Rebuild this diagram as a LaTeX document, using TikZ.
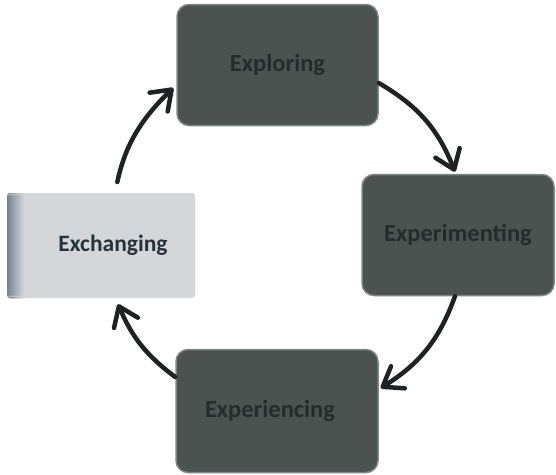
\documentclass[tikz,border=0pt]{standalone}
\usepackage{fontspec}
\setmainfont{Carlito}
\usetikzlibrary{arrows.meta}
\definecolor{darkbox}{HTML}{4B5351}
\definecolor{darkedge}{HTML}{7E8786}
\definecolor{darktext}{HTML}{252B2A}
\definecolor{lightbox}{HTML}{D3D7DA}
\definecolor{lightedge}{HTML}{75838F}
\definecolor{lighttext}{HTML}{27323B}
\definecolor{arrowcol}{HTML}{1E2222}
\tikzset{
  darkstage/.style={draw=darkedge, line width=1.5pt, fill=darkbox, rounded corners=12pt,
    minimum width=201pt, minimum height=121pt, inner sep=0pt,
    font=\bfseries\fontsize{24.5}{28}\selectfont, text=darktext},
  lightstage/.style={draw=none, fill=lightbox, rounded corners=3pt,
    minimum width=188pt, minimum height=105pt, inner sep=0pt,
    font=\bfseries\fontsize{23.5}{27}\selectfont, text=lighttext,
    path picture={\foreach \i in {0,...,17}{
        \pgfmathsetmacro{\mix}{100-\i*100/17}
        \fill[lightedge!\mix!lightbox]
          ([xshift=\i pt]path picture bounding box.south west) rectangle
          ([xshift=\i pt+1.05pt]path picture bounding box.north west);}}},
  cyclearrow/.style={draw=arrowcol, line width=4.5pt, line cap=round,
    -{Straight Barb[length=18pt,width=26pt,round]}}
}
\begin{document}
\begin{tikzpicture}[x=1pt,y=-1pt]
\useasboundingbox (0,0) rectangle (556,474);
\fill[white] (0,0) rectangle (556,474);
\node[darkstage] (explore) at (277.5,65) {Exploring};
\node[darkstage, minimum width=192pt, minimum height=121pt] (experiment) at (458,235) {Experimenting};
\node[darkstage, minimum width=202pt, minimum height=123pt] (experience) at (277,411) {Experiencing\hspace*{14pt}};
\node[lightstage] (exchange) at (101,245.5) {\hspace*{24pt}Exchanging};
\draw[cyclearrow] ([yshift=-18pt]explore.east) to[bend left=19] ([xshift=-3pt,yshift=2pt]experiment.north);
\draw[cyclearrow] ([xshift=-3pt]experiment.south) to[bend left=19] ([yshift=23pt,xshift=2pt]experience.east);
\draw[cyclearrow] ([yshift=34pt]experience.west) to[bend left=15] ([xshift=17pt,yshift=-6pt]exchange.south);
\draw[cyclearrow, shorten <=11pt] ([xshift=14pt]exchange.north) to[bend left=17] ([yshift=-23pt,xshift=-3pt]explore.west);
\end{tikzpicture}
\end{document}
